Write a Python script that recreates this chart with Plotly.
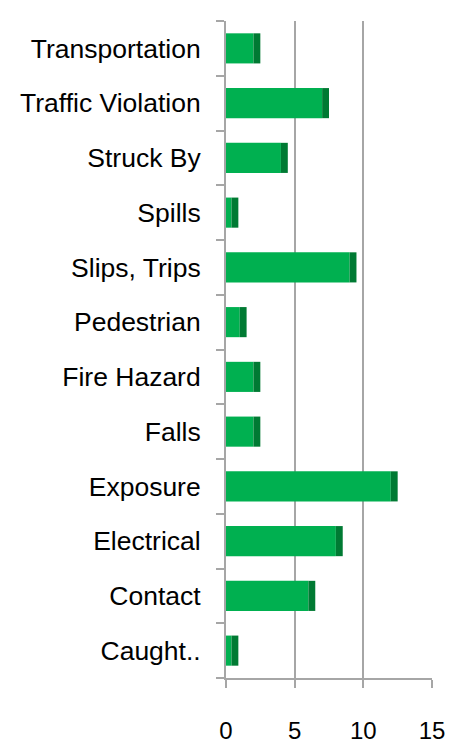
import plotly.graph_objects as go

categories = ["Caught..", "Contact", "Electrical", "Exposure", "Falls", "Fire Hazard",
              "Pedestrian", "Slips, Trips", "Spills", "Struck By", "Traffic Violation",
              "Transportation"]
values = [0.4, 6, 8, 12, 2, 2, 1, 9, 0.4, 4, 7, 2]
x_ticks = [0, 5, 10, 15]

FRONT = "#00B050"
SIDE = "#007A33"
GRID = "#A6A6A6"
depth = [0.5] * len(values)

fig = go.Figure()
fig.add_trace(go.Bar(
    y=categories, x=values, orientation="h", width=0.55,
    marker=dict(color=FRONT, line=dict(width=0)), showlegend=False,
))
fig.add_trace(go.Bar(
    y=categories, x=depth, base=values, orientation="h", width=0.55,
    marker=dict(color=SIDE, line=dict(width=0)), showlegend=False,
))

fig.update_layout(
    width=454, height=754,
    margin=dict(l=216, r=30, t=13, b=84),
    barmode="overlay",
    plot_bgcolor="white", paper_bgcolor="white",
    font=dict(family="Liberation Sans, Arial, sans-serif", size=26, color="black"),
    xaxis=dict(
        range=[0, 15], tickvals=x_ticks, ticktext=[str(v) for v in x_ticks],
        showgrid=True, gridcolor=GRID, gridwidth=2,
        zeroline=False, showline=True, linecolor=GRID, linewidth=2,
        ticks="outside", ticklen=8, tickcolor=GRID, tickwidth=2,
        ticklabelstandoff=22, tickfont=dict(size=24), fixedrange=True,
    ),
    yaxis=dict(
        categoryorder="array", categoryarray=categories,
        showgrid=False, zeroline=False, showline=True, linecolor=GRID, linewidth=2,
        ticks="outside", tickson="boundaries", ticklen=8, tickcolor=GRID, tickwidth=2,
        ticklabelstandoff=18, tickfont=dict(size=26.5), fixedrange=True,
    ),
)

fig.write_html("out.html")
